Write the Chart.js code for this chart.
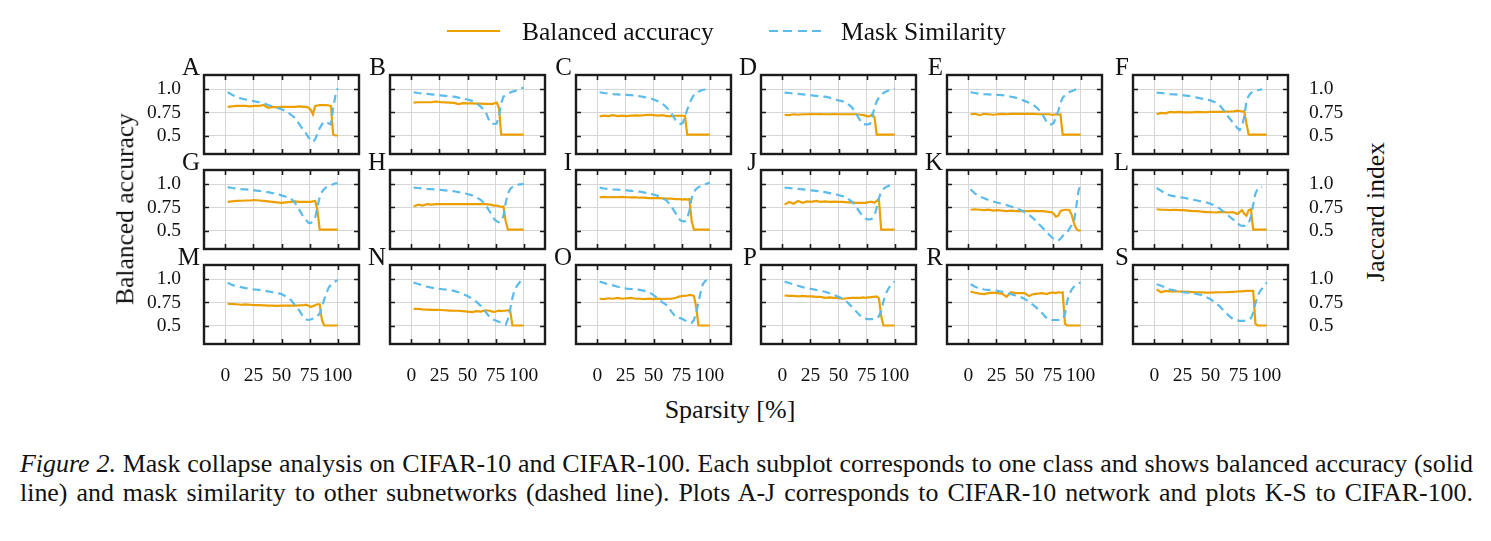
<!DOCTYPE html>
<html><head><meta charset="utf-8">
<script src="https://cdn.jsdelivr.net/npm/chart.js@4.4.0/dist/chart.umd.min.js"></script>
<style>
html,body{margin:0;padding:0;background:#fff;}
body{width:1491px;height:541px;position:relative;overflow:hidden;font-family:'Liberation Serif','Times New Roman',serif;color:#111;}
canvas{position:absolute;}
.t{position:absolute;white-space:nowrap;line-height:1;}
.letter{font-size:25px;text-align:right;width:36px;}
.rot{transform:translate(-50%,-50%) rotate(-90deg);font-size:25.5px;}
.cap{position:absolute;left:20px;width:1453px;line-height:1;text-align:justify;text-align-last:justify;white-space:normal;}
.sw{position:absolute;height:2px;}
</style></head><body>
<script>
// ---------------- data ----------------
const panelLetters = ['A','B','C','D','E','F','G','H','I','J','K','L','M','N','O','P','R','S'];
const seriesNames = ['Balanced accuracy', 'Mask Similarity'];
const xTickValues = [0, 25, 50, 75, 100];
const xTickLabels = ['0', '25', '50', '75', '100'];
const yTickValues = [0.5, 0.75, 1.0];
const yTickLabels = ['0.5', '0.75', '1.0'];
const sparsity = [2, 6, 10, 14, 18, 22, 26, 30, 34, 38, 42, 46, 50, 54, 58, 62, 66, 70, 72, 74, 76, 78, 80, 82, 84, 86, 88, 90, 92, 94, 96, 98, 100];

const accA = [0.81,0.815,0.82,0.82,0.82,0.815,0.82,0.82,0.83,0.80,0.81,0.805,0.81,0.81,0.81,0.81,0.815,0.81,0.81,0.80,0.78,0.73,0.82,0.825,0.83,0.83,0.83,0.83,0.825,0.82,0.51,0.50,0.50];
const simA = [0.97,0.94,0.92,0.90,0.89,0.88,0.87,0.86,0.85,0.83,0.815,0.80,0.785,0.765,0.73,0.69,0.62,0.55,0.52,0.48,0.45,0.43,0.46,0.52,0.58,0.62,0.65,0.645,0.63,0.62,0.80,0.93,1.01];
const accB = [0.857,0.86,0.86,0.86,0.862,0.868,0.86,0.858,0.855,0.853,0.84,0.85,0.848,0.848,0.845,0.845,0.843,0.843,0.84,0.85,0.857,0.80,0.51,0.51,0.51,0.51,0.51,0.51,0.51,0.51,0.51,0.51,0.51];
const simB = [0.968,0.96,0.955,0.95,0.945,0.94,0.935,0.93,0.925,0.92,0.91,0.90,0.89,0.875,0.85,0.81,0.76,0.64,0.63,0.625,0.63,0.71,0.85,0.92,0.94,0.955,0.965,0.975,0.98,0.99,1.0,1.01,1.02];
const accC = [0.707,0.715,0.71,0.72,0.71,0.715,0.71,0.715,0.718,0.715,0.72,0.725,0.72,0.715,0.72,0.71,0.71,0.714,0.714,0.714,0.714,0.714,0.51,0.51,0.51,0.51,0.51,0.51,0.51,0.51,0.51,0.51,0.51];
const simC = [0.968,0.96,0.955,0.948,0.945,0.942,0.94,0.938,0.93,0.925,0.915,0.91,0.89,0.87,0.845,0.80,0.74,0.66,0.635,0.625,0.635,0.70,0.78,0.84,0.90,0.94,0.96,0.975,0.985,0.995,1.0,1.01,1.01];
const accD = [0.725,0.72,0.73,0.725,0.73,0.73,0.732,0.73,0.733,0.73,0.73,0.732,0.73,0.73,0.73,0.73,0.73,0.725,0.72,0.715,0.707,0.71,0.73,0.70,0.51,0.51,0.51,0.51,0.51,0.51,0.51,0.51,0.51];
const simD = [0.964,0.96,0.955,0.95,0.946,0.94,0.935,0.93,0.925,0.92,0.91,0.895,0.88,0.87,0.845,0.805,0.73,0.65,0.625,0.62,0.62,0.625,0.70,0.80,0.87,0.91,0.94,0.96,0.975,0.985,0.995,1.0,1.01];
const accE = [0.73,0.735,0.72,0.735,0.73,0.725,0.73,0.735,0.73,0.735,0.735,0.735,0.735,0.735,0.735,0.73,0.73,0.73,0.73,0.725,0.725,0.73,0.725,0.73,0.51,0.51,0.51,0.51,0.51,0.51,0.51,0.51,0.51];
const simE = [0.968,0.96,0.952,0.947,0.945,0.942,0.94,0.937,0.93,0.92,0.91,0.895,0.875,0.855,0.83,0.79,0.73,0.64,0.62,0.62,0.636,0.70,0.76,0.85,0.91,0.935,0.955,0.97,0.98,0.99,1.0,1.01,1.01];
const accF = [0.73,0.745,0.74,0.755,0.75,0.755,0.75,0.752,0.75,0.755,0.753,0.752,0.755,0.755,0.755,0.758,0.76,0.76,0.765,0.77,0.765,0.76,0.765,0.63,0.51,0.51,0.51,0.51,0.51,0.51,0.51,0.51,0.51];
const simF = [0.964,0.96,0.955,0.948,0.945,0.94,0.935,0.93,0.92,0.91,0.90,0.89,0.88,0.86,0.83,0.77,0.70,0.64,0.61,0.58,0.56,0.60,0.70,0.87,0.93,0.96,0.98,0.985,0.99,0.995,1.0,null,null];
const accG = [0.81,0.815,0.82,0.822,0.825,0.825,0.83,0.825,0.82,0.815,0.81,0.805,0.80,0.805,0.81,0.815,0.81,0.81,0.81,0.81,0.81,0.815,0.82,0.72,0.51,0.51,0.51,0.51,0.51,0.51,0.51,0.51,0.51];
const simG = [0.97,0.96,0.955,0.948,0.945,0.94,0.935,0.93,0.92,0.915,0.905,0.90,0.88,0.865,0.85,0.80,0.72,0.636,0.61,0.585,0.58,0.60,0.636,0.76,0.86,0.92,0.95,0.97,0.98,0.99,1.0,1.01,1.01];
const accH = [0.76,0.78,0.77,0.785,0.78,0.785,0.785,0.785,0.785,0.785,0.785,0.785,0.785,0.785,0.785,0.785,0.785,0.78,0.775,0.77,0.77,0.765,0.755,0.76,0.60,0.51,0.51,0.51,0.51,0.51,0.51,0.51,0.51];
const simH = [0.965,0.96,0.955,0.95,0.948,0.945,0.94,0.935,0.93,0.925,0.915,0.905,0.895,0.88,0.86,0.83,0.78,0.70,0.66,0.62,0.60,0.59,0.60,0.66,0.80,0.90,0.95,0.97,0.98,0.99,1.0,1.0,1.01];
const accI = [0.86,0.865,0.86,0.862,0.86,0.865,0.86,0.858,0.86,0.855,0.855,0.85,0.85,0.85,0.848,0.845,0.845,0.84,0.84,0.84,0.835,0.84,0.835,0.84,0.60,0.51,0.51,0.51,0.51,0.51,0.51,0.51,0.51];
const simI = [0.965,0.955,0.95,0.945,0.942,0.94,0.935,0.93,0.925,0.92,0.91,0.90,0.89,0.875,0.855,0.82,0.76,0.68,0.64,0.61,0.60,0.60,0.62,0.72,0.85,0.92,0.95,0.97,0.98,0.99,1.0,1.01,1.02];
const accJ = [0.78,0.81,0.79,0.82,0.80,0.815,0.81,0.82,0.81,0.815,0.81,0.812,0.81,0.81,0.805,0.805,0.80,0.80,0.80,0.80,0.805,0.81,0.81,0.80,0.82,0.84,0.51,0.51,0.51,0.51,0.51,0.51,0.51];
const simJ = [0.965,0.96,0.955,0.95,0.945,0.94,0.935,0.93,0.925,0.915,0.905,0.895,0.885,0.87,0.85,0.81,0.75,0.68,0.65,0.63,0.62,0.62,0.63,0.66,0.75,0.85,0.92,0.95,0.97,0.98,0.99,1.0,1.01];
const accK = [0.725,0.73,0.725,0.72,0.725,0.715,0.72,0.715,0.71,0.715,0.71,0.712,0.71,0.71,0.712,0.71,0.71,0.705,0.70,0.70,0.68,0.65,0.66,0.71,0.72,0.725,0.725,0.72,0.67,0.58,0.52,0.50,0.50];
const simK = [0.946,0.90,0.87,0.85,0.83,0.815,0.80,0.79,0.775,0.76,0.745,0.725,0.70,0.67,0.63,0.58,0.53,0.48,0.455,0.43,0.41,0.395,0.39,0.41,0.44,0.47,0.48,0.52,0.56,0.59,0.75,0.92,1.02];
const accL = [0.73,0.725,0.725,0.72,0.725,0.72,0.72,0.715,0.71,0.71,0.705,0.70,0.70,0.695,0.70,0.70,0.695,0.70,0.69,0.68,0.70,0.72,0.68,0.66,0.72,0.73,0.51,0.51,0.51,0.51,0.51,0.51,0.51];
const simL = [0.96,0.93,0.90,0.88,0.87,0.86,0.855,0.845,0.835,0.825,0.815,0.805,0.79,0.77,0.74,0.70,0.66,0.62,0.60,0.58,0.56,0.55,0.55,0.56,0.58,0.65,0.78,0.90,0.95,0.97,0.975,null,null];
const accM = [0.735,0.733,0.73,0.725,0.728,0.725,0.72,0.72,0.718,0.715,0.715,0.712,0.715,0.715,0.715,0.715,0.718,0.72,0.725,0.715,0.70,0.71,0.72,0.73,0.73,0.56,0.50,0.50,0.50,0.50,0.50,0.50,0.50];
const simM = [0.964,0.94,0.925,0.915,0.905,0.895,0.89,0.885,0.88,0.87,0.86,0.855,0.84,0.815,0.78,0.72,0.66,0.58,0.565,0.56,0.565,0.575,0.59,0.60,0.63,0.70,0.78,0.85,0.91,0.94,0.96,0.98,0.99];
const accN = [0.68,0.68,0.675,0.672,0.67,0.67,0.668,0.665,0.662,0.66,0.66,0.655,0.65,0.645,0.655,0.65,0.665,0.66,0.65,0.647,0.655,0.66,0.655,0.66,0.66,0.665,0.66,0.50,0.50,0.50,0.50,0.50,0.50];
const simN = [0.964,0.95,0.935,0.92,0.91,0.90,0.895,0.89,0.885,0.875,0.86,0.84,0.82,0.79,0.755,0.71,0.65,0.586,0.57,0.56,0.55,0.54,0.53,0.52,0.51,0.57,0.68,0.80,0.885,0.93,0.96,0.99,1.0];
const accO = [0.79,0.785,0.795,0.79,0.80,0.79,0.795,0.80,0.79,0.79,0.785,0.79,0.785,0.79,0.785,0.79,0.79,0.80,0.81,0.815,0.82,0.82,0.825,0.83,0.83,0.82,0.70,0.50,0.50,0.50,0.50,0.50,0.50];
const simO = [0.975,0.96,0.945,0.935,0.92,0.91,0.90,0.895,0.89,0.885,0.875,0.86,0.83,0.79,0.75,0.72,0.65,0.59,0.585,0.58,0.57,0.555,0.545,0.535,0.53,0.56,0.64,0.75,0.86,0.95,0.98,0.995,1.0];
const accP = [0.825,0.82,0.82,0.815,0.82,0.815,0.815,0.81,0.81,0.80,0.805,0.80,0.795,0.79,0.795,0.80,0.80,0.80,0.805,0.80,0.805,0.805,0.81,0.81,0.815,0.795,0.60,0.50,0.50,0.50,0.50,0.50,0.50];
const simP = [0.975,0.96,0.945,0.93,0.915,0.905,0.895,0.885,0.875,0.865,0.85,0.83,0.81,0.79,0.75,0.70,0.65,0.60,0.58,0.575,0.57,0.57,0.57,0.575,0.58,0.60,0.66,0.76,0.84,0.89,0.93,0.96,0.975];
const accR = [0.867,0.855,0.845,0.84,0.85,0.856,0.85,0.845,0.81,0.86,0.85,0.85,0.85,0.82,0.84,0.845,0.85,0.84,0.85,0.855,0.856,0.85,0.86,0.855,0.86,0.52,0.50,0.50,0.50,0.50,0.50,0.50,0.50];
const simR = [0.946,0.92,0.90,0.89,0.885,0.88,0.875,0.865,0.855,0.84,0.825,0.81,0.79,0.755,0.72,0.68,0.63,0.575,0.565,0.56,0.56,0.56,0.56,0.565,0.57,0.62,0.76,0.84,0.89,0.92,0.94,0.955,0.965];
const accS = [0.89,0.86,0.875,0.87,0.87,0.868,0.866,0.865,0.862,0.86,0.858,0.856,0.856,0.858,0.86,0.86,0.862,0.865,0.866,0.868,0.87,0.87,0.872,0.874,0.875,0.875,0.875,0.52,0.50,0.50,0.50,0.50,0.50];
const simS = [0.946,0.93,0.91,0.89,0.88,0.87,0.86,0.855,0.85,0.84,0.83,0.81,0.785,0.75,0.71,0.66,0.61,0.57,0.56,0.555,0.55,0.55,0.55,0.555,0.565,0.58,0.64,0.74,0.82,0.87,0.90,0.94,0.964];

const accuracySeries = [accA,accB,accC,accD,accE,accF,accG,accH,accI,accJ,accK,accL,accM,accN,accO,accP,accR,accS];
const similaritySeries = [simA,simB,simC,simD,simE,simF,simG,simH,simI,simJ,simK,simL,simM,simN,simO,simP,simR,simS];

const captionLine1Italic = 'Figure 2.';
const captionLine1 = ' Mask collapse analysis on CIFAR-10 and CIFAR-100. Each subplot corresponds to one class and shows balanced accuracy (solid';
const captionLine2 = 'line) and mask similarity to other subnetworks (dashed line). Plots A-J corresponds to CIFAR-10 network and plots K-S to CIFAR-100.';

// ---------------- layout / style ----------------
const FONT = "'Liberation Serif','Times New Roman',serif";
const colLeft = [204, 390, 576, 761, 947, 1133];
const rowTop = [75, 170, 265];
const PW = 155, PH = 79;
const ORANGE = '#EBA000', BLUE = '#5BBBEC';
Chart.defaults.font.family = FONT;
Chart.defaults.color = '#111';

const framePlugin = {
  id: 'frame',
  afterDraw(chart) {
    const {ctx, chartArea: {left, right, top, bottom}, scales: {x, y}} = chart;
    ctx.save();
    ctx.strokeStyle = '#1c1c1c';
    ctx.lineWidth = 1.6;
    ctx.beginPath();
    xTickValues.forEach(v => {
      const px = Math.round(x.getPixelForValue(v)) + 0.5;
      ctx.moveTo(px, top); ctx.lineTo(px, top + 5);
      ctx.moveTo(px, bottom); ctx.lineTo(px, bottom - 5);
    });
    yTickValues.forEach(v => {
      const py = Math.round(y.getPixelForValue(v)) + 0.5;
      ctx.moveTo(left, py); ctx.lineTo(left + 5, py);
      ctx.moveTo(right, py); ctx.lineTo(right - 5, py);
    });
    ctx.stroke();
    ctx.lineWidth = 2.4;
    ctx.strokeRect(left, top, right - left, bottom - top);
    ctx.restore();
  }
};

function addText(txt, cls, style) {
  const d = document.createElement('div');
  d.className = 't ' + cls;
  d.textContent = txt;
  Object.assign(d.style, style);
  document.body.appendChild(d);
  return d;
}

function makePanel(i) {
  const col = i % 6, row = Math.floor(i / 6);
  const L = colLeft[col], T = rowTop[row];
  const showYL = col === 0, showYR = col === 5, showX = row === 2;
  const padL = showYL ? 70 : 3, padR = showYR ? 70 : 3, padT = 3, padB = showX ? 50 : 3;
  const cv = document.createElement('canvas');
  cv.width = PW + padL + padR; cv.height = PH + padT + padB;
  cv.style.left = (L - padL) + 'px'; cv.style.top = (T - padT) + 'px';
  document.body.appendChild(cv);
  const acc = accuracySeries[i], sim = similaritySeries[i];
  new Chart(cv, {
    type: 'line',
    data: {
      datasets: [
        {label: seriesNames[0], data: sparsity.map((x, k) => ({x, y: acc[k]})), borderColor: ORANGE, borderWidth: 2.2, pointRadius: 0, tension: 0, order: 2},
        {label: seriesNames[1], data: sparsity.map((x, k) => ({x, y: sim[k]})), borderColor: BLUE, borderWidth: 2.2, borderDash: [8, 5], pointRadius: 0, tension: 0, order: 1}
      ]
    },
    options: {
      responsive: false, animation: false, events: [],
      layout: {autoPadding: false, padding: {left: showYL ? 0 : 3, right: showYR ? 0 : 3, top: 3, bottom: showX ? 0 : 3}},
      plugins: {legend: {display: false}, tooltip: {enabled: false}},
      scales: {
        x: {
          type: 'linear', min: -19, max: 119,
          afterBuildTicks: s => { s.ticks = xTickValues.map(v => ({value: v})); },
          ticks: {display: showX, autoSkip: false, maxRotation: 0, padding: 20, font: {size: 19.5}, color: '#111',
                  callback: (v, idx) => xTickLabels[idx]},
          grid: {color: '#d6d6d6', lineWidth: 1, drawTicks: false},
          border: {display: false},
          afterFit: s => { s.height = showX ? 50 : 0; s.paddingLeft = 0; s.paddingRight = 0; }
        },
        y: {
          type: 'linear', position: showYR ? 'right' : 'left', min: 0.30, max: 1.155,
          afterBuildTicks: s => { s.ticks = yTickValues.map(v => ({value: v})); },
          ticks: {display: showYL || showYR, padding: showYR ? 21 : 23, font: {size: 19.5}, color: '#111',
                  callback: (v, idx) => yTickLabels[idx]},
          grid: {color: '#d6d6d6', lineWidth: 1, drawTicks: false},
          border: {display: false},
          afterFit: s => { s.width = (showYL || showYR) ? 70 : 0; s.paddingTop = 0; s.paddingBottom = 0; }
        }
      }
    },
    plugins: [framePlugin]
  });
  addText(panelLetters[i], 'letter', {left: (L - 40) + 'px', top: (T - 21) + 'px'});
}

for (let i = 0; i < 18; i++) makePanel(i);

// legend
const lg1 = document.createElement('div'); lg1.className = 'sw';
Object.assign(lg1.style, {left: '447px', top: '30px', width: '53px', background: ORANGE});
document.body.appendChild(lg1);
const lg2 = document.createElement('div'); lg2.className = 'sw';
Object.assign(lg2.style, {left: '769px', top: '30px', width: '53px', background: `repeating-linear-gradient(to right, ${BLUE} 0 9px, transparent 9px 14.5px)`});
document.body.appendChild(lg2);
addText(seriesNames[0], '', {left: '522px', top: '19px', fontSize: '25.5px'});
addText(seriesNames[1], '', {left: '841px', top: '19px', fontSize: '25.5px'});

// axis labels
addText('Balanced accuracy', 'rot', {left: '125px', top: '209px'});
addText('Jaccard index', 'rot', {left: '1376px', top: '212px'});
addText('Sparsity [%]', '', {left: '730px', top: '410px', fontSize: '26px', transform: 'translate(-50%,-50%)'});

// caption: font size fitted so that the longest line spans the caption width
const mctx = document.createElement('canvas').getContext('2d');
mctx.font = 'italic 26px ' + FONT; const wIt = mctx.measureText(captionLine1Italic).width;
mctx.font = '26px ' + FONT; const w1 = wIt + mctx.measureText(captionLine1).width, w2 = mctx.measureText(captionLine2).width;
const capSize = Math.min(27, 26 * 1446 / Math.max(w1, w2));
const c1 = document.createElement('div'); c1.className = 'cap';
Object.assign(c1.style, {top: (465 - capSize * 0.55) + 'px', fontSize: capSize + 'px'});
const it = document.createElement('i'); it.textContent = captionLine1Italic; c1.appendChild(it);
c1.appendChild(document.createTextNode(captionLine1));
document.body.appendChild(c1);
const c2 = document.createElement('div'); c2.className = 'cap';
Object.assign(c2.style, {top: (494 - capSize * 0.55) + 'px', fontSize: capSize + 'px'});
c2.textContent = captionLine2;
document.body.appendChild(c2);
</script>
</body></html>
